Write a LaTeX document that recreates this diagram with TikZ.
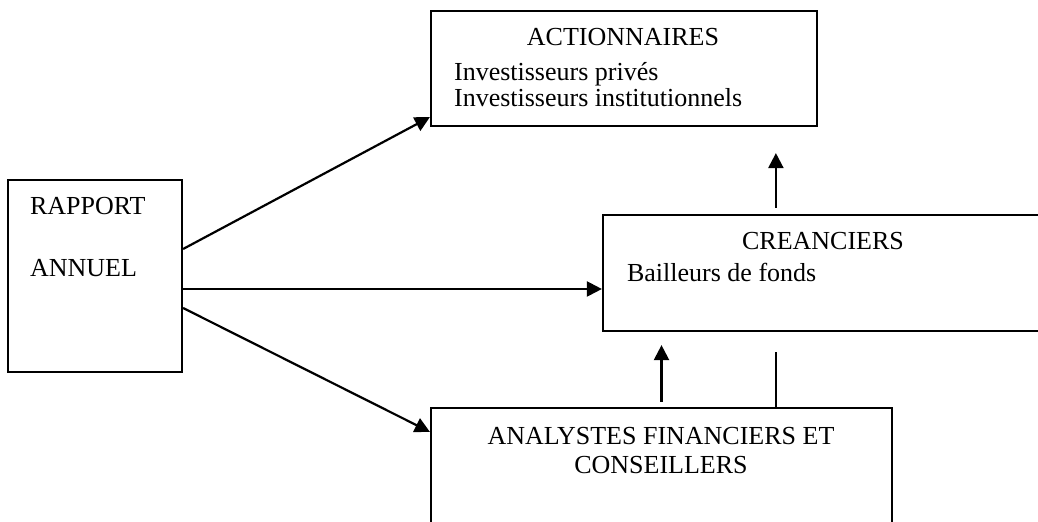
\documentclass[tikz,border=0pt]{standalone}
\usepackage{fontspec}
\setmainfont{Liberation Serif}
\usetikzlibrary{arrows.meta}

\begin{document}
\begin{tikzpicture}[x=0.5pt, y=-0.5pt, line width=1.1pt, >={Triangle[length=7.5pt, width=7.5pt]},
  font=\fontsize{13}{15}\selectfont,
  boite/.style={draw, rectangle, inner sep=0pt},
  texte/.style={anchor=base west, inner xsep=0pt}]
\useasboundingbox (0, 0) rectangle (1038, 522);
\clip (0, 0) rectangle (1038, 522);
\node[boite, minimum width=87pt, minimum height=96pt] (rapport) at (95, 276) {};
\node[boite, minimum width=193pt, minimum height=57.5pt] (actionnaires) at (624, 68.5) {};
\node[boite, minimum width=238.5pt, minimum height=58pt] (creanciers) at (841.5, 273) {};
\node[boite, minimum width=230.5pt, minimum height=76pt] (analystes) at (661.5, 484) {};
\node[texte] (t1) at (29, 215) {RAPPORT};
\node[texte] (t2) at (29, 277) {ANNUEL};
\node[anchor=base] (t3) at (623, 46) {ACTIONNAIRES};
\node[texte] (t4) at (453, 81) {Investisseurs privés};
\node[texte] (t5) at (453, 107) {Investisseurs institutionnels};
\node[anchor=base] (t6) at (823, 250) {CREANCIERS};
\node[texte] (t7) at (626, 282) {Bailleurs de fonds};
\node[anchor=base] (t8) at (661, 445) {ANALYSTES FINANCIERS ET};
\node[anchor=base] (t9) at (661, 474) {CONSEILLERS};
\coordinate (r2) at ([yshift=-6.5pt]rapport.east);
\coordinate (c1) at ([xshift=87pt]creanciers.north west);
\draw[->] ([yshift=13.5pt]rapport.east) -- ([yshift=5pt]actionnaires.south west);
\draw[->] (r2) -- (r2 -| creanciers.west);
\draw[->] ([yshift=-16pt]rapport.east) -- ([yshift=-12.5pt]analystes.north west);
\draw[->, shorten <=3pt, shorten >=13pt] (c1) -- (c1 |- actionnaires.south);
\draw[->, shorten <=2.5pt, shorten >=6.5pt] (analystes.north) -- (analystes.north |- creanciers.south);
\draw[shorten >=10pt] (c1 |- analystes.north) -- (c1 |- creanciers.south);
\end{tikzpicture}
\end{document}
